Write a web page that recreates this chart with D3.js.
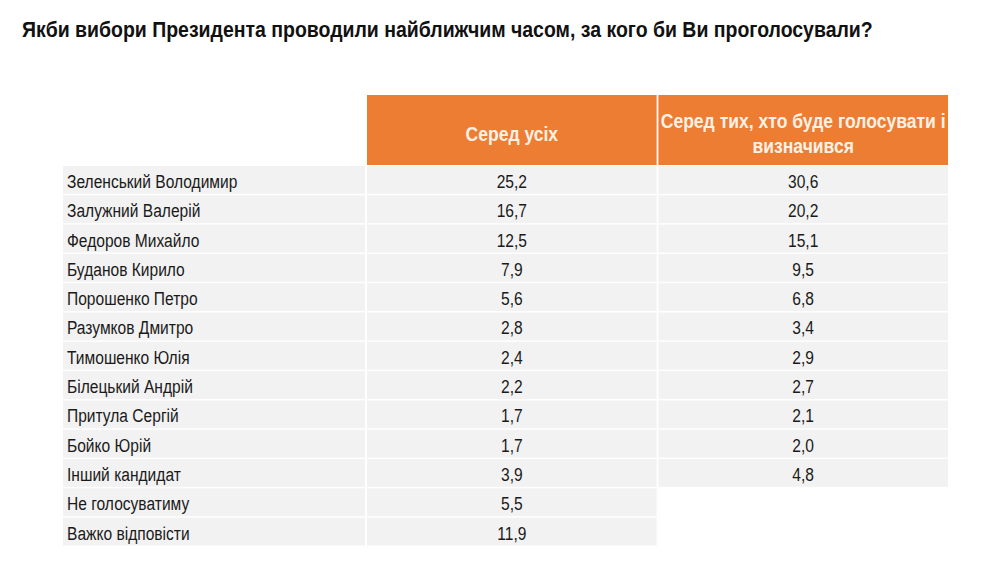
<!DOCTYPE html>
<html><head><meta charset="utf-8">
<script src="https://cdn.jsdelivr.net/npm/d3@7"></script>
<style>
html,body{margin:0;padding:0;background:#fff;}
svg{display:block;font-family:"Liberation Sans",Arial,sans-serif;}
</style></head>
<body>
<script>
const title = "Якби вибори Президента проводили найближчим часом, за кого би Ви проголосували?";
const columns = ["Серед усіх", "Серед тих, хто буде голосувати і визначився"];
const columnLines = [["Серед усіх"], ["Серед тих, хто буде голосувати і", "визначився"]];
const candidates = ["Зеленський Володимир","Залужний Валерій","Федоров Михайло","Буданов Кирило","Порошенко Петро","Разумков Дмитро","Тимошенко Юлія","Білецький Андрій","Притула Сергій","Бойко Юрій","Інший кандидат","Не голосуватиму","Важко відповісти"];
const allValues = [25.2,16.7,12.5,7.9,5.6,2.8,2.4,2.2,1.7,1.7,3.9,5.5,11.9];
const decidedValues = [30.6,20.2,15.1,9.5,6.8,3.4,2.9,2.7,2.1,2.0,4.8,null,null];
const series = [allValues, decidedValues];

const W = 1007, H = 571;
const svg = d3.select("body").append("svg").attr("width", W).attr("height", H);

// helper: narrow text via horizontal scaling
function narrow(sel, x, y, sx) {
  return sel.attr("transform", (d,i) => `translate(${x(d,i)},${y(d,i)}) scale(${sx},1)`);
}

narrow(svg.append("text").datum(title), () => 22, () => 37, 0.885)
  .attr("font-size", 22).attr("font-weight", "bold").attr("fill", "#111")
  .text(title);

const labelX0 = 63, colX0 = 367, colX1 = 948;
const x = d3.scaleBand().domain(d3.range(columns.length)).range([colX0, colX1]).paddingInner(0.006);
const y = d3.scaleBand().domain(candidates).range([166, 545.5]).paddingInner(0.05);
const fmt = v => d3.format(".1f")(v).replace(".", ",");
const baseOff = y.bandwidth()/2 + 8;

// header
const hdr = svg.append("g");
hdr.selectAll("rect").data(columns).join("rect")
  .attr("x", (d,i) => x(i)).attr("y", 95).attr("width", x.bandwidth()).attr("height", 70)
  .attr("fill", "#EC7D32");
columnLines.forEach((lines, ci) => {
  const y0 = 141 - (lines.length - 1) * 13;
  narrow(hdr.selectAll("text.h" + ci).data(lines).join("text").attr("class", "h" + ci),
      () => x(ci) + x.bandwidth()/2, (d,k) => y0 + k * 25, 0.9)
    .attr("text-anchor", "middle").attr("font-size", 19.5).attr("font-weight", "bold").attr("fill", "#FDF1E6")
    .text(d => d);
});

// rows
const rows = svg.append("g");
rows.selectAll("rect.lab").data(candidates).join("rect").attr("class","lab")
  .attr("x", labelX0).attr("y", d => y(d)).attr("width", colX0 - 2 - labelX0).attr("height", y.bandwidth())
  .attr("fill", "#F2F2F2");
narrow(rows.selectAll("text.lab").data(candidates).join("text").attr("class","lab"),
    () => labelX0 + 4, d => y(d) + baseOff, 0.82)
  .attr("font-size", 19).attr("fill", "#1a1a1a").text(d => d);

series.forEach((vals, ci) => {
  const g = svg.append("g");
  const data = vals.map((v, i) => ({v, c: candidates[i]})).filter(d => d.v !== null);
  g.selectAll("rect").data(data).join("rect")
    .attr("x", x(ci)).attr("y", d => y(d.c)).attr("width", x.bandwidth()).attr("height", y.bandwidth())
    .attr("fill", "#F2F2F2");
  narrow(g.selectAll("text").data(data).join("text"),
      () => x(ci) + x.bandwidth()/2, d => y(d.c) + baseOff, 0.82)
    .attr("text-anchor", "middle").attr("font-size", 19).attr("fill", "#1a1a1a")
    .text(d => fmt(d.v));
});
</script>
</body></html>
